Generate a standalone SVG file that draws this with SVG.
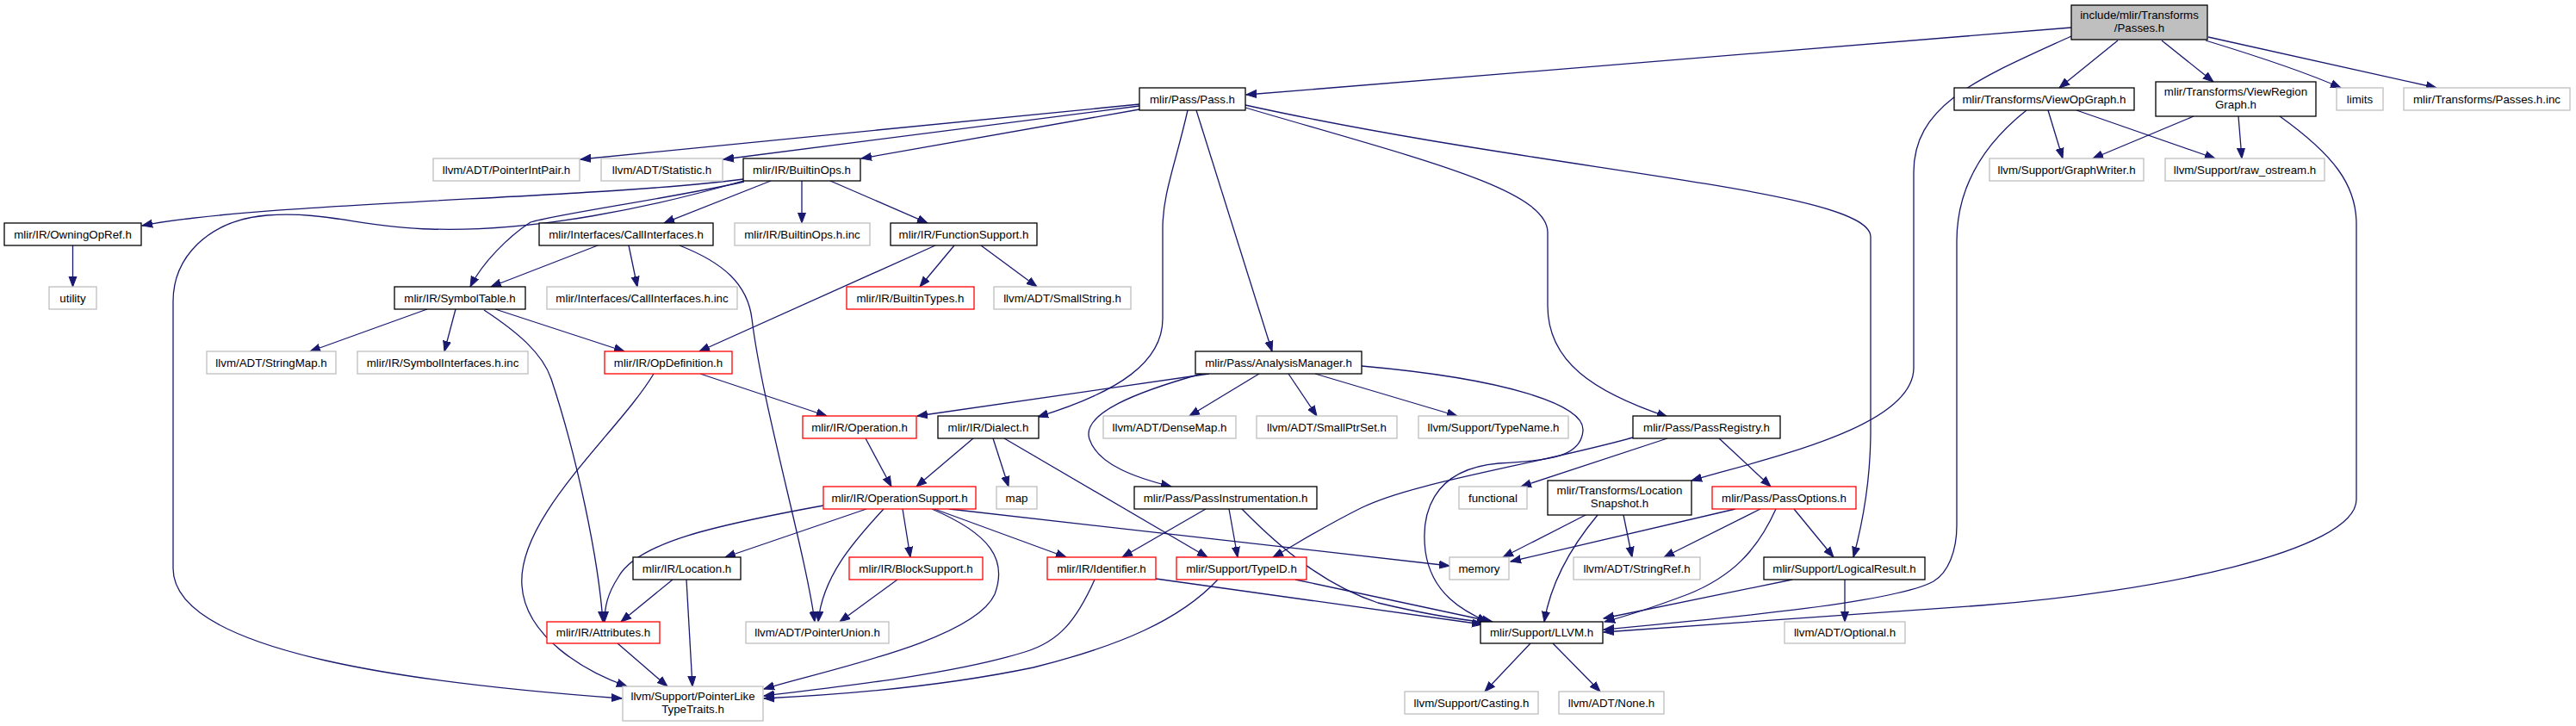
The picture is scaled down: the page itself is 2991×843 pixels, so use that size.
<svg xmlns="http://www.w3.org/2000/svg" width="2991" height="843" viewBox="0 0 2991 843">
<style>
rect{fill:#fff;stroke-width:1.3}
.k rect{stroke:#000}
.g rect{stroke:#bfbfbf}
.r rect{stroke:#ff0000}
.root rect{fill:#bfbfbf;stroke:#000}
text{font-family:"Liberation Sans",Arial,sans-serif;font-size:13.3px;text-anchor:middle;fill:#000}
#edges path{fill:none;stroke:#191970;stroke-width:1.3;marker-end:url(#ah)}
</style>
<defs>
<marker id="ah" markerUnits="userSpaceOnUse" markerWidth="14" markerHeight="12" refX="12" refY="5" orient="auto" viewBox="0 0 14 10">
<path d="M0,0.5 L12,5 L0,9.5 z" fill="#191970" stroke="#191970" stroke-width="1"/>
</marker>
</defs>
<rect x="0" y="0" width="2991" height="843" style="fill:#fff;stroke:none"/>
<g id="edges">
<path d="M2405,32 L1447,110"/>
<path d="M2405,42 C2300,90 2222,120 2222,200 L2222,427 C2222,495 2060,530 1964,558"/>
<path d="M2459,47 L2391,102"/>
<path d="M2510,47 L2570,95"/>
<path d="M2561,47 C2620,65 2680,85 2718,102"/>
<path d="M2564,43 L2829,102"/>
<path d="M1323,121 L674,185"/>
<path d="M1323,123 L840,185"/>
<path d="M1323,127 L1000,184"/>
<path d="M1379,128 C1365,190 1350,225 1350,265 L1350,370 C1350,420 1300,455 1205,484"/>
<path d="M1389,128 L1477,408"/>
<path d="M1446,125 C1650,185 1797,220 1797,270 L1797,355 C1797,420 1850,455 1936,484"/>
<path d="M1446,122 C1800,200 2172,220 2172,275 L2172,500 C2172,560 2162,610 2152,647"/>
<path d="M2378,128 L2395,184"/>
<path d="M2411,128 L2572,184"/>
<path d="M2353,128 C2300,170 2272,220 2272,280 L2272,610 C2272,640 2262,665 2245,675 C2200,700 2000,718 1862,731"/>
<path d="M2547,135 L2430,184"/>
<path d="M2599,135 L2603,184"/>
<path d="M2647,135 C2710,180 2736,215 2736,260 L2736,580 C2736,640 2500,688 2300,703 C2100,718 1950,728 1862,734"/>
<path d="M863,208 C700,230 300,235 165,262"/>
<path d="M84.5,285 L84.5,333"/>
<path d="M863,210 C760,240 620,270 500,266 C420,264 380,245 310,250 C240,256 201,300 201,350 L201,660 C201,760 500,795 722,811"/>
<path d="M864,211 C780,230 650,248 616,258 C590,275 560,305 546,333"/>
<path d="M895,210 L771,259"/>
<path d="M931,210 L931,259"/>
<path d="M964,210 L1077,259"/>
<path d="M694,285 L570,333"/>
<path d="M730,285 L740,333"/>
<path d="M789,285 C840,305 868,330 873,370 C885,470 935,640 946,722"/>
<path d="M1086,285 L812,408"/>
<path d="M1108,285 L1068,333"/>
<path d="M1139,285 L1204,333"/>
<path d="M496,359 L360,408"/>
<path d="M529,359 L516,408"/>
<path d="M575,359 L725,408"/>
<path d="M562,360 C600,385 630,410 640,440 C670,530 695,650 700,722"/>
<path d="M813,434 L960,483"/>
<path d="M759,434 C720,500 600,600 606,680 C610,740 680,780 728,797"/>
<path d="M1005,509 L1035,565"/>
<path d="M1006,591 L842,647"/>
<path d="M956,587 C830,610 740,630 718,670 C705,690 702,705 702,722"/>
<path d="M1026,591 C990,630 955,670 950,722"/>
<path d="M1048,591 L1057,647"/>
<path d="M1082,591 C1150,620 1170,650 1155,690 C1130,745 950,780 887,800"/>
<path d="M1085,591 L1238,647"/>
<path d="M1102,591 L1683,657"/>
<path d="M781,673 L721,722"/>
<path d="M797,673 L804,797"/>
<path d="M1042,673 L975,722"/>
<path d="M717,747 L775,797"/>
<path d="M1271,673 C1250,720 1230,745 1190,757 C1100,785 950,800 887,808"/>
<path d="M1414,673 C1370,720 1300,750 1200,775 C1080,800 950,808 887,811"/>
<path d="M1342,672 L1721,725"/>
<path d="M1504,673 L1733,722"/>
<path d="M1130,509 L1064,565"/>
<path d="M1153,509 L1171,565"/>
<path d="M1166,509 L1402,647"/>
<path d="M1404,434 L1065,483"/>
<path d="M1395,434 C1320,455 1255,480 1265,510 C1275,540 1320,555 1360,565"/>
<path d="M1462,434 L1381,483"/>
<path d="M1496,434 L1529,483"/>
<path d="M1527,434 L1692,483"/>
<path d="M1581,425 C1750,440 1840,470 1838,500 C1836,530 1800,535 1740,538 C1660,545 1650,600 1655,640 C1662,690 1700,710 1727,722"/>
<path d="M1400,591 L1303,647"/>
<path d="M1427,591 L1437,647"/>
<path d="M1442,591 C1490,640 1540,680 1600,700 C1650,712 1700,720 1727,723"/>
<path d="M1936,509 L1766,565"/>
<path d="M1896,508 C1780,540 1640,560 1580,590 C1530,615 1500,635 1478,647"/>
<path d="M1996,509 L2056,565"/>
<path d="M1841,598 L1745,647"/>
<path d="M1855,598 C1820,640 1800,680 1793,722"/>
<path d="M1885,598 L1895,647"/>
<path d="M2015,591 L1754,652"/>
<path d="M2044,591 L1932,647"/>
<path d="M2062,591 C2040,640 2010,670 1960,690 C1920,705 1890,715 1863,722"/>
<path d="M2083,591 L2129,647"/>
<path d="M2081,673 L1862,718"/>
<path d="M2142,673 L2142,722"/>
<path d="M1777,747 L1724,803"/>
<path d="M1803,747 L1858,803"/>
</g>
<g id="n0" class="root"><rect x="2405" y="6" width="158" height="40"/><text x="2484" y="22">include/mlir/Transforms</text><text x="2484" y="37">/Passes.h</text></g>
<g id="n1" class="k"><rect x="1323" y="102" width="123" height="26"/><text x="1384.5" y="119.5">mlir/Pass/Pass.h</text></g>
<g id="n2" class="k"><rect x="2269" y="102" width="209" height="26"/><text x="2373.5" y="119.5">mlir/Transforms/ViewOpGraph.h</text></g>
<g id="n3" class="k"><rect x="2503" y="95" width="186" height="40"/><text x="2596" y="111">mlir/Transforms/ViewRegion</text><text x="2596" y="126">Graph.h</text></g>
<g id="n4" class="g"><rect x="2713" y="102" width="54" height="26"/><text x="2740" y="119.5">limits</text></g>
<g id="n5" class="g"><rect x="2791" y="102" width="193" height="26"/><text x="2887.5" y="119.5">mlir/Transforms/Passes.h.inc</text></g>
<g id="n6" class="g"><rect x="503" y="184" width="170" height="26"/><text x="588" y="201.5">llvm/ADT/PointerIntPair.h</text></g>
<g id="n7" class="g"><rect x="698" y="184" width="141" height="26"/><text x="768.5" y="201.5">llvm/ADT/Statistic.h</text></g>
<g id="n8" class="k"><rect x="863" y="184" width="136" height="26"/><text x="931" y="201.5">mlir/IR/BuiltinOps.h</text></g>
<g id="n9" class="g"><rect x="2310" y="184" width="179" height="26"/><text x="2399.5" y="201.5">llvm/Support/GraphWriter.h</text></g>
<g id="n10" class="g"><rect x="2514" y="184" width="185" height="26"/><text x="2606.5" y="201.5">llvm/Support/raw_ostream.h</text></g>
<g id="n11" class="k"><rect x="5" y="259" width="159" height="26"/><text x="84.5" y="276.5">mlir/IR/OwningOpRef.h</text></g>
<g id="n12" class="k"><rect x="626" y="259" width="202" height="26"/><text x="727" y="276.5">mlir/Interfaces/CallInterfaces.h</text></g>
<g id="n13" class="g"><rect x="853" y="259" width="157" height="26"/><text x="931.5" y="276.5">mlir/IR/BuiltinOps.h.inc</text></g>
<g id="n14" class="k"><rect x="1034" y="259" width="170" height="26"/><text x="1119" y="276.5">mlir/IR/FunctionSupport.h</text></g>
<g id="n15" class="g"><rect x="57" y="333" width="55" height="26"/><text x="84.5" y="350.5">utility</text></g>
<g id="n16" class="k"><rect x="458" y="333" width="152" height="26"/><text x="534" y="350.5">mlir/IR/SymbolTable.h</text></g>
<g id="n17" class="g"><rect x="635" y="333" width="221" height="26"/><text x="745.5" y="350.5">mlir/Interfaces/CallInterfaces.h.inc</text></g>
<g id="n18" class="r"><rect x="983" y="333" width="148" height="26"/><text x="1057" y="350.5">mlir/IR/BuiltinTypes.h</text></g>
<g id="n19" class="g"><rect x="1154" y="333" width="159" height="26"/><text x="1233.5" y="350.5">llvm/ADT/SmallString.h</text></g>
<g id="n20" class="g"><rect x="240" y="408" width="150" height="26"/><text x="315" y="425.5">llvm/ADT/StringMap.h</text></g>
<g id="n21" class="g"><rect x="415" y="408" width="198" height="26"/><text x="514" y="425.5">mlir/IR/SymbolInterfaces.h.inc</text></g>
<g id="n22" class="r"><rect x="702" y="408" width="148" height="26"/><text x="776" y="425.5">mlir/IR/OpDefinition.h</text></g>
<g id="n23" class="k"><rect x="1388" y="408" width="193" height="26"/><text x="1484.5" y="425.5">mlir/Pass/AnalysisManager.h</text></g>
<g id="n24" class="r"><rect x="932" y="483" width="132" height="26"/><text x="998" y="500.5">mlir/IR/Operation.h</text></g>
<g id="n25" class="k"><rect x="1089" y="483" width="117" height="26"/><text x="1147.5" y="500.5">mlir/IR/Dialect.h</text></g>
<g id="n26" class="g"><rect x="1281" y="483" width="154" height="26"/><text x="1358" y="500.5">llvm/ADT/DenseMap.h</text></g>
<g id="n27" class="g"><rect x="1459" y="483" width="163" height="26"/><text x="1540.5" y="500.5">llvm/ADT/SmallPtrSet.h</text></g>
<g id="n28" class="g"><rect x="1647" y="483" width="174" height="26"/><text x="1734" y="500.5">llvm/Support/TypeName.h</text></g>
<g id="n29" class="k"><rect x="1896" y="483" width="171" height="26"/><text x="1981.5" y="500.5">mlir/Pass/PassRegistry.h</text></g>
<g id="n30" class="r"><rect x="956" y="565" width="177" height="26"/><text x="1044.5" y="582.5">mlir/IR/OperationSupport.h</text></g>
<g id="n31" class="g"><rect x="1157" y="565" width="47" height="26"/><text x="1180.5" y="582.5">map</text></g>
<g id="n32" class="k"><rect x="1317" y="565" width="212" height="26"/><text x="1423" y="582.5">mlir/Pass/PassInstrumentation.h</text></g>
<g id="n33" class="g"><rect x="1694" y="565" width="79" height="26"/><text x="1733.5" y="582.5">functional</text></g>
<g id="n34" class="k"><rect x="1797" y="558" width="167" height="40"/><text x="1880.5" y="574">mlir/Transforms/Location</text><text x="1880.5" y="589">Snapshot.h</text></g>
<g id="n35" class="r"><rect x="1988" y="565" width="167" height="26"/><text x="2071.5" y="582.5">mlir/Pass/PassOptions.h</text></g>
<g id="n36" class="k"><rect x="735" y="647" width="125" height="26"/><text x="797.5" y="664.5">mlir/IR/Location.h</text></g>
<g id="n37" class="r"><rect x="986" y="647" width="155" height="26"/><text x="1063.5" y="664.5">mlir/IR/BlockSupport.h</text></g>
<g id="n38" class="r"><rect x="1216" y="647" width="126" height="26"/><text x="1279" y="664.5">mlir/IR/Identifier.h</text></g>
<g id="n39" class="r"><rect x="1366" y="647" width="151" height="26"/><text x="1441.5" y="664.5">mlir/Support/TypeID.h</text></g>
<g id="n40" class="g"><rect x="1683" y="647" width="69" height="26"/><text x="1717.5" y="664.5">memory</text></g>
<g id="n41" class="g"><rect x="1827" y="647" width="147" height="26"/><text x="1900.5" y="664.5">llvm/ADT/StringRef.h</text></g>
<g id="n42" class="k"><rect x="2048" y="647" width="187" height="26"/><text x="2141.5" y="664.5">mlir/Support/LogicalResult.h</text></g>
<g id="n43" class="r"><rect x="635" y="722" width="131" height="25"/><text x="700.5" y="739">mlir/IR/Attributes.h</text></g>
<g id="n44" class="g"><rect x="866" y="722" width="166" height="25"/><text x="949" y="739">llvm/ADT/PointerUnion.h</text></g>
<g id="n45" class="k"><rect x="1719" y="722" width="142" height="25"/><text x="1790" y="739">mlir/Support/LLVM.h</text></g>
<g id="n46" class="g"><rect x="2072" y="722" width="140" height="25"/><text x="2142" y="739">llvm/ADT/Optional.h</text></g>
<g id="n47" class="g"><rect x="723" y="797" width="163" height="40"/><text x="804.5" y="813">llvm/Support/PointerLike</text><text x="804.5" y="828">TypeTraits.h</text></g>
<g id="n48" class="g"><rect x="1631" y="803" width="155" height="26"/><text x="1708.5" y="820.5">llvm/Support/Casting.h</text></g>
<g id="n49" class="g"><rect x="1810" y="803" width="122" height="26"/><text x="1871" y="820.5">llvm/ADT/None.h</text></g>
</svg>
